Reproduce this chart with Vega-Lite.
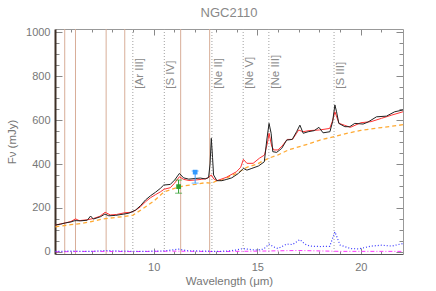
{
  "$schema": "https://vega.github.io/schema/vega-lite/v6.json",
  "width": 348,
  "height": 225,
  "autosize": {"type": "none"},
  "padding": {"left": 55, "top": 29, "right": 33, "bottom": 37},
  "background": "white",
  "title": {"text": "NGC2110", "anchor": "middle", "offset": 6, "font": "Liberation Sans", "fontSize": 13, "fontWeight": "normal", "color": "#888888"},
  "config": {
    "view": {"stroke": null},
    "axis": {"grid": false, "labelFont": "Liberation Sans", "titleFont": "Liberation Sans", "labelColor": "#777777", "titleColor": "#777777", "tickColor": "#888888", "labelFontSize": 11, "titleFontSize": 11.5, "titleFontWeight": "normal", "domainColor": "#999999", "format": "d"}
  },
  "datasets": {
    "spec": [
      {"lam": 5.25, "f": 122}, {"lam": 5.5, "f": 126}, {"lam": 5.75, "f": 132}, {"lam": 6.0, "f": 136}, {"lam": 6.15, "f": 141}, {"lam": 6.25, "f": 142}, {"lam": 6.47, "f": 141}, {"lam": 6.79, "f": 144}, {"lam": 6.95, "f": 163}, {"lam": 7.08, "f": 149}, {"lam": 7.43, "f": 160}, {"lam": 7.64, "f": 172}, {"lam": 7.83, "f": 164}, {"lam": 8.16, "f": 166}, {"lam": 8.56, "f": 172}, {"lam": 8.8, "f": 176}, {"lam": 9.12, "f": 190}, {"lam": 9.36, "f": 210}, {"lam": 9.6, "f": 236}, {"lam": 9.84, "f": 255}, {"lam": 10.08, "f": 271}, {"lam": 10.32, "f": 289}, {"lam": 10.48, "f": 304}, {"lam": 10.8, "f": 307}, {"lam": 11.01, "f": 327}, {"lam": 11.24, "f": 357}, {"lam": 11.44, "f": 337}, {"lam": 11.69, "f": 331}, {"lam": 12.0, "f": 334}, {"lam": 12.25, "f": 336}, {"lam": 12.49, "f": 332}, {"lam": 12.65, "f": 339}, {"lam": 12.72, "f": 400}, {"lam": 12.78, "f": 517}, {"lam": 12.84, "f": 430}, {"lam": 12.89, "f": 350}, {"lam": 13.05, "f": 324}, {"lam": 13.29, "f": 324}, {"lam": 13.53, "f": 330}, {"lam": 13.77, "f": 337}, {"lam": 14.09, "f": 357}, {"lam": 14.33, "f": 380}, {"lam": 14.5, "f": 372}, {"lam": 14.74, "f": 380}, {"lam": 15.06, "f": 391}, {"lam": 15.34, "f": 410}, {"lam": 15.46, "f": 509}, {"lam": 15.57, "f": 585}, {"lam": 15.67, "f": 540}, {"lam": 15.75, "f": 456}, {"lam": 15.94, "f": 453}, {"lam": 16.18, "f": 471}, {"lam": 16.42, "f": 509}, {"lam": 16.69, "f": 512}, {"lam": 16.9, "f": 547}, {"lam": 17.06, "f": 577}, {"lam": 17.22, "f": 540}, {"lam": 17.46, "f": 547}, {"lam": 17.75, "f": 552}, {"lam": 17.98, "f": 567}, {"lam": 18.18, "f": 542}, {"lam": 18.51, "f": 547}, {"lam": 18.64, "f": 593}, {"lam": 18.75, "f": 669}, {"lam": 18.83, "f": 638}, {"lam": 18.94, "f": 585}, {"lam": 19.23, "f": 570}, {"lam": 19.47, "f": 570}, {"lam": 19.71, "f": 585}, {"lam": 20.11, "f": 582}, {"lam": 20.35, "f": 591}, {"lam": 20.76, "f": 615}, {"lam": 21.24, "f": 618}, {"lam": 21.64, "f": 638}, {"lam": 22.04, "f": 646}
    ],
    "model": [
      {"lam": 5.25, "f": 122}, {"lam": 5.75, "f": 132}, {"lam": 6.0, "f": 138}, {"lam": 6.22, "f": 150}, {"lam": 6.4, "f": 142}, {"lam": 6.8, "f": 146}, {"lam": 7.1, "f": 152}, {"lam": 7.4, "f": 162}, {"lam": 7.65, "f": 180}, {"lam": 7.9, "f": 168}, {"lam": 8.2, "f": 170}, {"lam": 8.6, "f": 178}, {"lam": 8.9, "f": 180}, {"lam": 9.1, "f": 188}, {"lam": 9.36, "f": 205}, {"lam": 9.6, "f": 228}, {"lam": 9.84, "f": 246}, {"lam": 10.08, "f": 260}, {"lam": 10.32, "f": 273}, {"lam": 10.5, "f": 285}, {"lam": 10.8, "f": 292}, {"lam": 11.0, "f": 312}, {"lam": 11.24, "f": 342}, {"lam": 11.44, "f": 330}, {"lam": 11.7, "f": 325}, {"lam": 12.0, "f": 327}, {"lam": 12.3, "f": 330}, {"lam": 12.6, "f": 335}, {"lam": 12.78, "f": 350}, {"lam": 12.9, "f": 332}, {"lam": 13.05, "f": 324}, {"lam": 13.5, "f": 339}, {"lam": 14.0, "f": 365}, {"lam": 14.2, "f": 385}, {"lam": 14.33, "f": 421}, {"lam": 14.5, "f": 403}, {"lam": 14.8, "f": 403}, {"lam": 15.1, "f": 426}, {"lam": 15.35, "f": 441}, {"lam": 15.5, "f": 500}, {"lam": 15.57, "f": 540}, {"lam": 15.7, "f": 480}, {"lam": 15.8, "f": 464}, {"lam": 16.0, "f": 464}, {"lam": 16.2, "f": 482}, {"lam": 16.45, "f": 512}, {"lam": 16.7, "f": 512}, {"lam": 16.9, "f": 540}, {"lam": 17.0, "f": 555}, {"lam": 17.2, "f": 547}, {"lam": 17.5, "f": 552}, {"lam": 18.0, "f": 555}, {"lam": 18.5, "f": 562}, {"lam": 18.65, "f": 600}, {"lam": 18.75, "f": 638}, {"lam": 18.95, "f": 585}, {"lam": 19.2, "f": 577}, {"lam": 19.5, "f": 567}, {"lam": 20.0, "f": 588}, {"lam": 20.5, "f": 593}, {"lam": 21.0, "f": 608}, {"lam": 21.5, "f": 623}, {"lam": 22.04, "f": 638}
    ],
    "cont": [
      {"lam": 5.25, "f": 114}, {"lam": 6.0, "f": 124}, {"lam": 6.5, "f": 129}, {"lam": 7.0, "f": 138}, {"lam": 7.5, "f": 149}, {"lam": 8.0, "f": 155}, {"lam": 8.5, "f": 160}, {"lam": 9.0, "f": 167}, {"lam": 9.5, "f": 198}, {"lam": 10.0, "f": 231}, {"lam": 10.5, "f": 273}, {"lam": 11.0, "f": 289}, {"lam": 11.5, "f": 301}, {"lam": 12.0, "f": 307}, {"lam": 12.5, "f": 315}, {"lam": 12.8, "f": 312}, {"lam": 13.0, "f": 322}, {"lam": 13.3, "f": 327}, {"lam": 13.6, "f": 340}, {"lam": 14.0, "f": 357}, {"lam": 14.5, "f": 385}, {"lam": 15.0, "f": 400}, {"lam": 15.3, "f": 415}, {"lam": 15.6, "f": 428}, {"lam": 16.0, "f": 441}, {"lam": 16.5, "f": 464}, {"lam": 17.0, "f": 478}, {"lam": 17.5, "f": 492}, {"lam": 18.0, "f": 508}, {"lam": 18.5, "f": 520}, {"lam": 19.0, "f": 532}, {"lam": 19.5, "f": 543}, {"lam": 20.0, "f": 553}, {"lam": 20.5, "f": 560}, {"lam": 21.0, "f": 566}, {"lam": 21.5, "f": 572}, {"lam": 22.04, "f": 579}
    ],
    "resid": [
      {"lam": 5.25, "f": 2}, {"lam": 6.0, "f": 3}, {"lam": 7.0, "f": 2}, {"lam": 7.7, "f": 6}, {"lam": 8.5, "f": 3}, {"lam": 9.5, "f": 2}, {"lam": 10.5, "f": 4}, {"lam": 11.2, "f": 12}, {"lam": 11.6, "f": 5}, {"lam": 12.5, "f": 3}, {"lam": 13.0, "f": 2}, {"lam": 13.5, "f": 3}, {"lam": 14.0, "f": 8}, {"lam": 14.3, "f": 15}, {"lam": 14.7, "f": 10}, {"lam": 15.0, "f": 8}, {"lam": 15.3, "f": 12}, {"lam": 15.57, "f": 35}, {"lam": 15.8, "f": 22}, {"lam": 16.0, "f": 15}, {"lam": 16.42, "f": 35}, {"lam": 16.7, "f": 33}, {"lam": 17.06, "f": 56}, {"lam": 17.3, "f": 35}, {"lam": 17.55, "f": 26}, {"lam": 18.0, "f": 24}, {"lam": 18.5, "f": 25}, {"lam": 18.75, "f": 91}, {"lam": 19.0, "f": 31}, {"lam": 19.5, "f": 15}, {"lam": 19.9, "f": 13}, {"lam": 20.5, "f": 26}, {"lam": 21.0, "f": 30}, {"lam": 21.5, "f": 26}, {"lam": 22.04, "f": 38}
    ],
    "resid2": [
      {"lam": 5.25, "f": 0}, {"lam": 7.0, "f": 2}, {"lam": 9.0, "f": 1}, {"lam": 11.0, "f": 3}, {"lam": 13.0, "f": 1}, {"lam": 15.0, "f": 3}, {"lam": 17.0, "f": 6}, {"lam": 19.0, "f": 2}, {"lam": 21.0, "f": 2}, {"lam": 22.04, "f": 2}
    ],
    "pah": [{"lam": 5.7}, {"lam": 6.22}, {"lam": 7.7}, {"lam": 8.6}, {"lam": 11.3}, {"lam": 12.7}],
    "ions": [
      {"lam": 8.99, "label": "[Ar III]"}, {"lam": 10.51, "label": "[S IV]"}, {"lam": 12.81, "label": "[Ne II]"}, {"lam": 14.32, "label": "[Ne V]"}, {"lam": 15.56, "label": "[Ne III]"}, {"lam": 18.71, "label": "[S III]"}
    ],
    "phot": [
      {"lam": 11.2, "f": 297, "lo": 267, "hi": 327, "band": "a"},
      {"lam": 12.0, "f": 363, "lo": 313, "hi": 368, "band": "b"}
    ]
  },
  "layer": [
    {
      "data": {"name": "pah"},
      "mark": {"type": "rule", "color": "#d8ae98", "strokeWidth": 1},
      "encoding": {"x": {"field": "lam", "type": "quantitative", "axis": null, "scale": {"domain": [5.23, 22.04], "nice": false, "zero": false}}}
    },
    {
      "data": {"name": "ions"},
      "mark": {"type": "rule", "color": "#a0a0a0", "strokeWidth": 1, "strokeDash": [1, 2]},
      "encoding": {"x": {"field": "lam", "type": "quantitative", "axis": null}}
    },
    {
      "data": {"name": "ions"},
      "mark": {"type": "text", "angle": 270, "align": "left", "baseline": "middle", "dy": 7, "font": "Liberation Sans", "fontSize": 11.5, "color": "#8a8a8a"},
      "encoding": {
        "x": {"field": "lam", "type": "quantitative", "axis": null},
        "y": {"datum": 743, "type": "quantitative", "axis": null},
        "text": {"field": "label"}
      }
    },
    {
      "data": {"name": "resid2"},
      "mark": {"type": "line", "color": "#ff33ff", "strokeWidth": 1, "strokeDash": [4, 2, 1, 2]},
      "encoding": {
        "x": {"field": "lam", "type": "quantitative", "axis": {"orient": "top", "values": [6, 7, 8, 9, 11, 12, 13, 14, 16, 17, 18, 19, 21], "tickSize": -3, "labels": false, "domain": false, "title": null}},
        "y": {"field": "f", "type": "quantitative", "axis": {"orient": "right", "values": [50, 100, 150, 250, 300, 350, 450, 500, 550, 650, 700, 750, 850, 900, 950], "tickSize": -4, "labels": false, "domain": false, "title": null}}
      }
    },
    {
      "data": {"name": "resid"},
      "mark": {"type": "line", "color": "#3a3aff", "strokeWidth": 1.2, "strokeDash": [1, 2]},
      "encoding": {
        "x": {"field": "lam", "type": "quantitative", "axis": {"orient": "top", "values": [10, 15, 20], "tickSize": -6, "labels": false, "domain": true, "domainColor": "#999999", "title": null}},
        "y": {"field": "f", "type": "quantitative", "axis": {"orient": "right", "values": [0, 200, 400, 600, 800, 1000], "tickSize": -7, "labels": false, "domain": true, "domainColor": "#999999", "title": null}}
      }
    },
    {
      "data": {"name": "cont"},
      "mark": {"type": "line", "color": "#ffaa33", "strokeWidth": 1.3, "strokeDash": [4, 3]},
      "encoding": {
        "x": {"field": "lam", "type": "quantitative", "axis": {"orient": "bottom", "values": [6, 7, 8, 9, 11, 12, 13, 14, 16, 17, 18, 19, 21], "tickSize": -3, "labels": false, "domain": false, "title": null}},
        "y": {"field": "f", "type": "quantitative", "axis": {"orient": "left", "values": [50, 100, 150, 250, 300, 350, 450, 500, 550, 650, 700, 750, 850, 900, 950], "tickSize": -4, "labels": false, "domain": false, "title": null}}
      }
    },
    {
      "data": {"name": "model"},
      "mark": {"type": "line", "color": "#ff3333", "strokeWidth": 1},
      "encoding": {
        "x": {"field": "lam", "type": "quantitative", "axis": {"orient": "bottom", "values": [10, 15, 20], "tickSize": -6, "labels": false, "domain": false, "title": null}},
        "y": {"field": "f", "type": "quantitative", "axis": {"orient": "left", "values": [0, 200, 400, 600, 800, 1000], "tickSize": -7, "labels": false, "domain": false, "title": null}}
      }
    },
    {
      "data": {"name": "spec"},
      "mark": {"type": "line", "color": "#222222", "strokeWidth": 1},
      "encoding": {
        "x": {"field": "lam", "type": "quantitative", "axis": {"orient": "bottom", "values": [10, 15, 20], "ticks": false, "labelPadding": 7, "domain": true, "domainColor": "#555555", "title": "Wavelength (μm)", "titlePadding": 3}},
        "y": {"field": "f", "type": "quantitative", "scale": {"domain": [-10, 1015], "nice": false, "zero": false}, "axis": {"orient": "left", "values": [0, 200, 400, 600, 800, 1000], "ticks": false, "labelPadding": 5, "domain": true, "domainColor": "#3d2e25", "domainWidth": 2, "title": "Fν (mJy)", "titlePadding": 8}}
      }
    },
    {
      "data": {"name": "phot"},
      "mark": {"type": "errorbar", "ticks": {"size": 7}, "thickness": 1},
      "encoding": {
        "x": {"field": "lam", "type": "quantitative", "axis": null},
        "y": {"field": "lo", "type": "quantitative", "axis": null},
        "y2": {"field": "hi"},
        "color": {"field": "band", "type": "nominal", "scale": {"domain": ["a", "b"], "range": ["#2e9e2e", "#3399ff"]}, "legend": null}
      }
    },
    {
      "data": {"name": "phot"},
      "mark": {"type": "point", "shape": "square", "filled": true, "size": 22, "opacity": 1},
      "encoding": {
        "x": {"field": "lam", "type": "quantitative", "axis": null},
        "y": {"field": "f", "type": "quantitative", "axis": null},
        "color": {"field": "band", "type": "nominal", "scale": {"domain": ["a", "b"], "range": ["#228b22", "#3399ff"]}, "legend": null}
      }
    }
  ],
  "resolve": {"axis": {"x": "independent", "y": "independent"}}
}
